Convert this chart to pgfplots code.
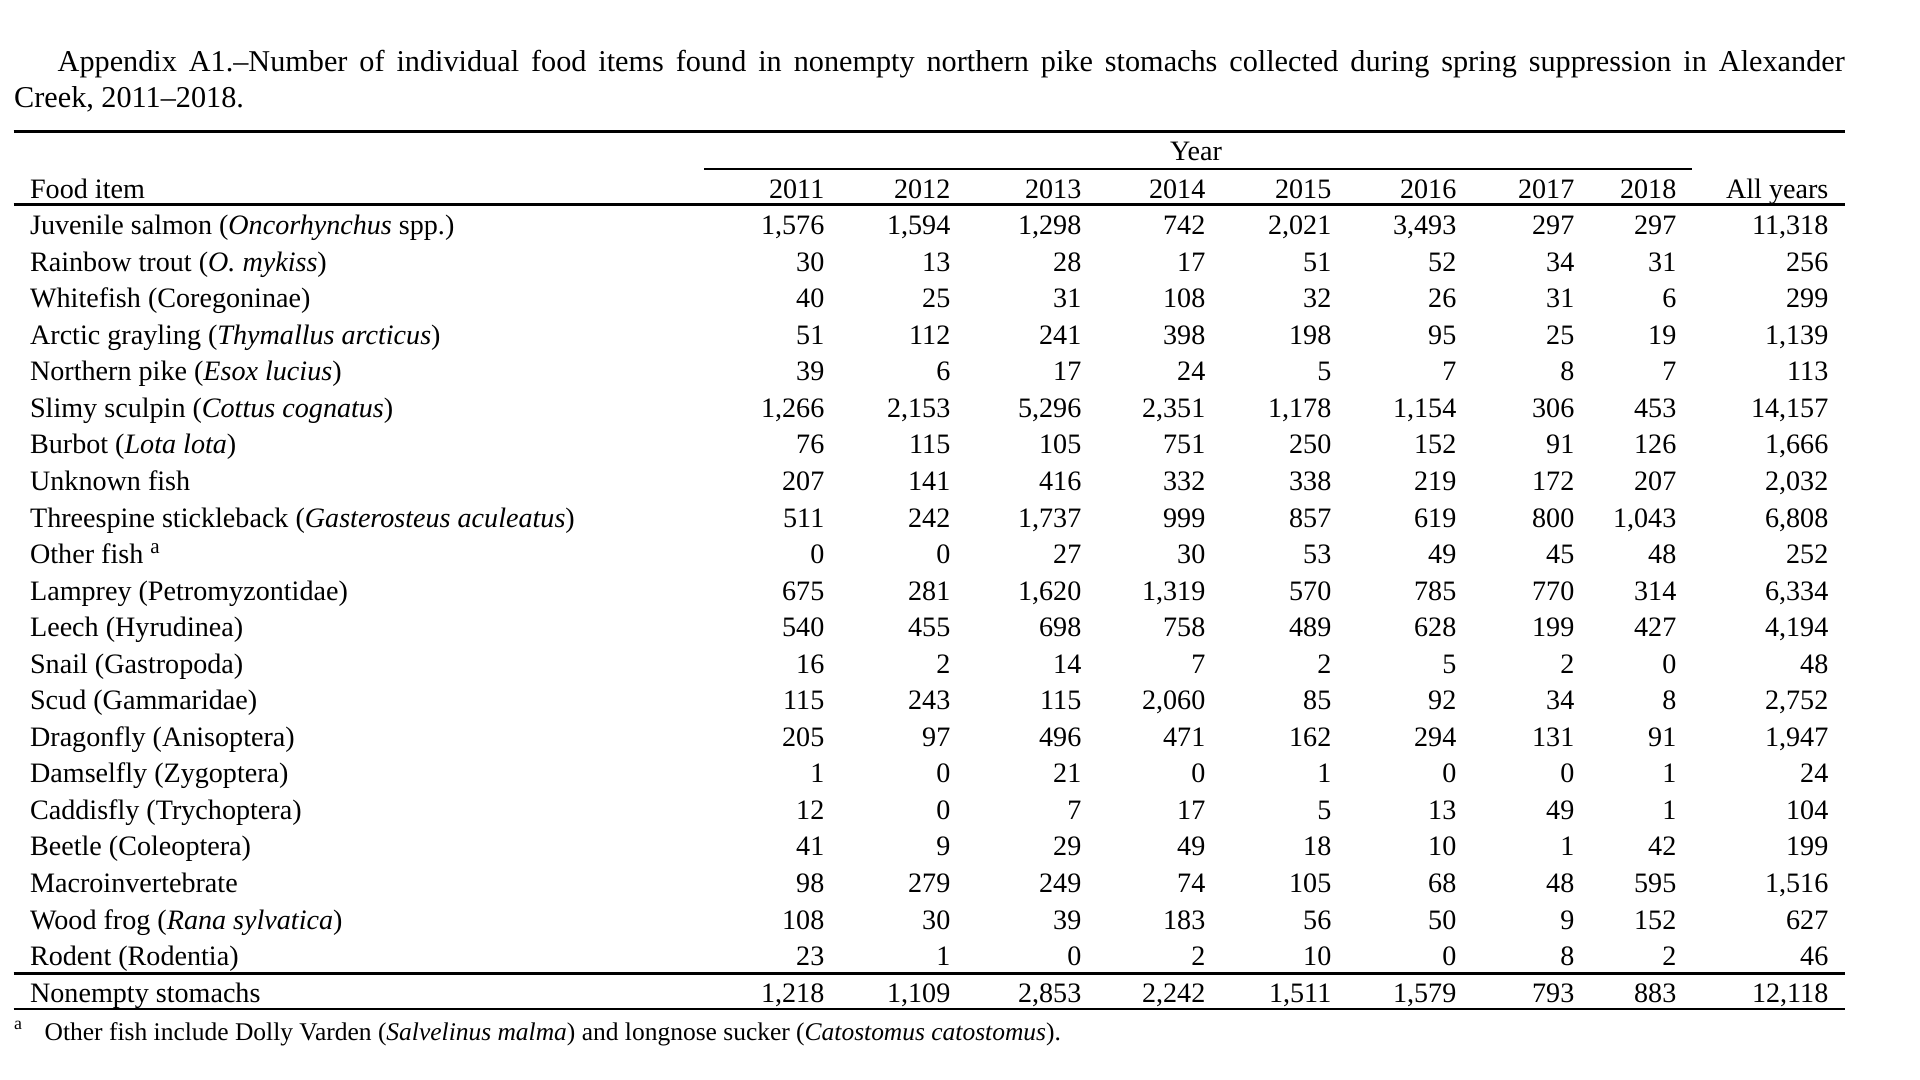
\documentclass[border=0pt]{standalone}
\usepackage{pgfplots}
\pgfplotsset{compat=1.18}
\usepackage{pgfplotstable}
\usepackage{fontspec}
\setmainfont{Liberation Serif}
\newcommand{\tf}{\fontsize{8}{9.6}\selectfont}
\newcommand{\ttl}{\fontsize{8.6}{10}\selectfont}
\newcommand{\fnf}{\fontsize{7.25}{8.7}\selectfont}

\pgfplotstableread{
row c2011 c2012 c2013 c2014 c2015 c2016 c2017 c2018 call
0 1576 1594 1298 742 2021 3493 297 297 11318
1 30 13 28 17 51 52 34 31 256
2 40 25 31 108 32 26 31 6 299
3 51 112 241 398 198 95 25 19 1139
4 39 6 17 24 5 7 8 7 113
5 1266 2153 5296 2351 1178 1154 306 453 14157
6 76 115 105 751 250 152 91 126 1666
7 207 141 416 332 338 219 172 207 2032
8 511 242 1737 999 857 619 800 1043 6808
9 0 0 27 30 53 49 45 48 252
10 675 281 1620 1319 570 785 770 314 6334
11 540 455 698 758 489 628 199 427 4194
12 16 2 14 7 2 5 2 0 48
13 115 243 115 2060 85 92 34 8 2752
14 205 97 496 471 162 294 131 91 1947
15 1 0 21 0 1 0 0 1 24
16 12 0 7 17 5 13 49 1 104
17 41 9 29 49 18 10 1 42 199
18 98 279 249 74 105 68 48 595 1516
19 108 30 39 183 56 50 9 152 627
20 23 1 0 2 10 0 8 2 46
21 1218 1109 2853 2242 1511 1579 793 883 12118
}\counts

\pgfplotstableread[col sep=&, row sep=\\]{
row & name \\
0 & Juvenile salmon (\textit{Oncorhynchus} spp.) \\
1 & Rainbow trout (\textit{O. mykiss}) \\
2 & Whitefish (Coregoninae) \\
3 & Arctic grayling (\textit{Thymallus arcticus}) \\
4 & Northern pike (\textit{Esox lucius}) \\
5 & Slimy sculpin (\textit{Cottus cognatus}) \\
6 & Burbot (\textit{Lota lota}) \\
7 & Unknown fish \\
8 & Threespine stickleback (\textit{Gasterosteus aculeatus}) \\
9 & Other fish \textsuperscript{a} \\
10 & Lamprey (Petromyzontidae) \\
11 & Leech (Hyrudinea) \\
12 & Snail (Gastropoda) \\
13 & Scud (Gammaridae) \\
14 & Dragonfly (Anisoptera) \\
15 & Damselfly (Zygoptera) \\
16 & Caddisfly (Trychoptera) \\
17 & Beetle (Coleoptera) \\
18 & Macroinvertebrate \\
19 & Wood frog (\textit{Rana sylvatica}) \\
20 & Rodent (Rodentia) \\
21 & Nonempty stomachs \\
}\names

\newcommand{\col}[2]{\addplot[color=black, draw=none, mark=none, nodes near coords, point meta=explicit,
  every node near coord/.append style={anchor=base east, inner sep=0pt, font=\tf, text=black}]
  table[x expr=#1, y expr={234.6+36.55*\thisrow{row}}, meta=#2]{\counts};}

\begin{document}
\begin{tikzpicture}
\begin{axis}[
  width=192mm, height=108mm, scale only axis,
  xmin=0, xmax=1920, ymin=0, ymax=1080, y dir=reverse,
  hide axis, clip=false,
  /pgf/number format/.cd, fixed, precision=0, 1000 sep={,}, assume math mode=true,
]
% title
\node[anchor=base west, inner sep=0pt, font=\ttl] at (axis cs:57,72)
  {\makebox[178.7mm][s]{Appendix A1.--Number of individual food items found in nonempty northern pike stomachs collected during spring suppression in Alexander}};
\node[anchor=base west, inner sep=0pt, font=\ttl] at (axis cs:13.5,108) {Creek, 2011--2018.};
% rules
\draw[line width=0.6pt] (axis cs:13.5,131.5) -- (axis cs:1845,131.5);
\draw[line width=0.6pt] (axis cs:704,169) -- (axis cs:1692,169);
\draw[line width=0.6pt] (axis cs:13.5,204.5) -- (axis cs:1845,204.5);
\draw[line width=0.6pt] (axis cs:13.5,973.5) -- (axis cs:1845,973.5);
\draw[line width=0.6pt] (axis cs:13.5,1009) -- (axis cs:1845,1009);
% header
\node[anchor=base, inner sep=0pt, font=\tf] at (axis cs:1196,161) {Year};
\node[anchor=base west, inner sep=0pt, font=\tf] at (axis cs:29.4,199) {Food item};
\node[anchor=base east, inner sep=0pt, font=\tf] at (axis cs:825,199) {2011};
\node[anchor=base east, inner sep=0pt, font=\tf] at (axis cs:951,199) {2012};
\node[anchor=base east, inner sep=0pt, font=\tf] at (axis cs:1082,199) {2013};
\node[anchor=base east, inner sep=0pt, font=\tf] at (axis cs:1206,199) {2014};
\node[anchor=base east, inner sep=0pt, font=\tf] at (axis cs:1332,199) {2015};
\node[anchor=base east, inner sep=0pt, font=\tf] at (axis cs:1457,199) {2016};
\node[anchor=base east, inner sep=0pt, font=\tf] at (axis cs:1575,199) {2017};
\node[anchor=base east, inner sep=0pt, font=\tf] at (axis cs:1677,199) {2018};
\node[anchor=base east, inner sep=0pt, font=\tf] at (axis cs:1829,199) {All years};
% food item names
\addplot[color=black, draw=none, mark=none, nodes near coords, point meta=explicit symbolic,
  every node near coord/.append style={anchor=base west, inner sep=0pt, font=\tf, text=black}]
  table[x expr=29.4, y expr={234.6+36.55*\thisrow{row}}, meta=name]{\names};
% numbers
\col{825}{c2011}
\col{951}{c2012}
\col{1082}{c2013}
\col{1206}{c2014}
\col{1332}{c2015}
\col{1457}{c2016}
\col{1575}{c2017}
\col{1677}{c2018}
\col{1829}{call}
% footnote
\node[anchor=base west, inner sep=0pt, font=\fnf] at (axis cs:13.5,1040) {\textsuperscript{a}};
\node[anchor=base west, inner sep=0pt, font=\fnf] at (axis cs:44,1040)
  {Other fish include Dolly Varden (\textit{Salvelinus malma}) and longnose sucker (\textit{Catostomus catostomus}).};
\end{axis}
\pgfresetboundingbox
\useasboundingbox (current axis.south west) rectangle (current axis.north east);
\end{tikzpicture}
\end{document}
